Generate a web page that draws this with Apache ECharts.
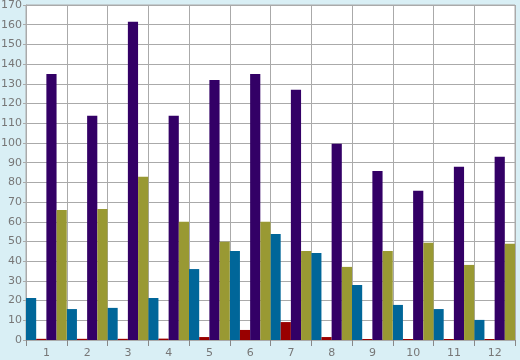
<!DOCTYPE html>
<html>
<head>
<meta charset="utf-8">
<script src="https://cdn.jsdelivr.net/npm/echarts@6/dist/echarts.min.js"></script>
<style>
html,body{margin:0;padding:0;background:#d9eff5;}
#c{width:520px;height:360px;}
</style>
</head>
<body>
<div id="c"></div>
<script>
var categories = ['1','2','3','4','5','6','7','8','9','10','11','12'];
var blueValues   = [21.3, 15.7, 16.3, 21.3, 36, 45.2, 53.8, 44.2, 27.9, 17.8, 15.7, 10.2];
var redValues    = [0.6, 0.6, 0.6, 0.7, 1.5, 5.1, 9.1, 1.5, 0.5, 0.5, 0.5, 0.5];
var purpleValues = [135, 113.8, 161.5, 113.8, 132, 135, 127, 99.6, 85.8, 75.7, 87.9, 93];
var oliveValues  = [66, 66.5, 82.8, 60, 49.8, 60, 45.2, 37.1, 45.2, 49.3, 38.1, 48.8];

var chart = echarts.init(document.getElementById('c'));
var lab = {color:'#777', fontFamily:'DejaVu Sans', fontSize:11};
function bar(name, data, color){
  return {name:name, type:'bar', data:data, itemStyle:{color:color}, barGap:'0%', barCategoryGap:'0%', animation:false};
}
chart.setOption({
  backgroundColor:'#d9eff5',
  animation:false,
  grid:{left:26, right:5, top:5, bottom:20, containLabel:false, outerBoundsMode:'none', show:true, backgroundColor:'#ffffff', borderColor:'#aaaaaa', borderWidth:1},
  xAxis:{
    type:'category', data:categories,
    axisLine:{lineStyle:{color:'#aaaaaa'}},
    axisTick:{show:true, length:6, lineStyle:{color:'#888888'}},
    splitLine:{show:true, lineStyle:{color:'#aaaaaa', width:1}},
    axisLabel:Object.assign({margin:8}, lab)
  },
  yAxis:{
    type:'value', min:0, max:170, interval:10,
    axisLine:{show:true, lineStyle:{color:'#aaaaaa'}},
    axisTick:{show:true, length:3, lineStyle:{color:'#aaaaaa'}},
    splitLine:{lineStyle:{color:'#aaaaaa', width:1}},
    axisLabel:Object.assign({margin:4}, lab)
  },
  series:[
    bar('blue', blueValues, '#006699'),
    bar('red', redValues, '#990000'),
    bar('purple', purpleValues, '#330066'),
    bar('olive', oliveValues, '#999933')
  ]
});
</script>
</body>
</html>
